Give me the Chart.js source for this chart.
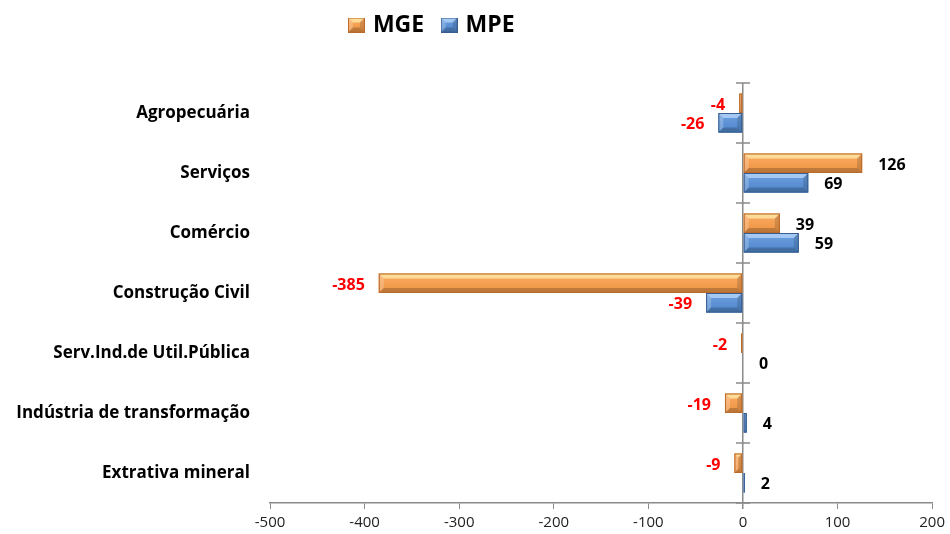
<!DOCTYPE html>
<html>
<head>
<meta charset="utf-8">
<script src="https://cdn.jsdelivr.net/npm/chart.js@4.4.1/dist/chart.umd.min.js"></script>
<style>
  html, body { margin: 0; padding: 0; background: #ffffff; }
  #wrap { width: 950px; height: 534px; position: relative; }
</style>
</head>
<body>
<div id="wrap"><canvas id="chart"></canvas></div>
<script>
// Saldo de empregos por setor, MGE x MPE
const categories = [
  'Agropecuária',
  'Serviços',
  'Comércio',
  'Construção Civil',
  'Serv.Ind.de Util.Pública',
  'Indústria de transformação',
  'Extrativa mineral'
];
const mgeValues = [-4, 126, 39, -385, -2, -19, -9];
const mpeValues = [-26, 69, 59, -39, 0, 4, 2];
const xTicks = [-500, -400, -300, -200, -100, 0, 100, 200];

const FONT = '"Open Sans", Lato, sans-serif';
const AXIS_GRAY = '#8a8a8a';

const palette = {
  MGE: { base: '#f59a48', border: '#b8692b', light: 'rgba(255,236,170,0.75)' },
  MPE: { base: '#548dd4', border: '#385e8f', light: 'rgba(190,220,255,0.7)' }
};

// Bevelled rectangle used for the bars and the legend keys
function bevelRect(ctx, l, t, r, b, col) {
  const w = r - l, h = b - t;
  if (w <= 0 || h <= 0) return;
  ctx.save();
  ctx.fillStyle = col.base;
  ctx.fillRect(l, t, w, h);
  const bv = Math.min(5, w / 2, h / 2);
  if (w > 2) {
    const g = ctx.createLinearGradient(0, t, 0, b);
    g.addColorStop(0, 'rgba(255,255,255,0.18)');
    g.addColorStop(0.5, 'rgba(255,255,255,0.05)');
    g.addColorStop(1, 'rgba(0,0,0,0.05)');
    ctx.fillStyle = g;
    ctx.fillRect(l, t, w, h);
    const poly = (pts, fill) => {
      ctx.beginPath();
      ctx.moveTo(pts[0][0], pts[0][1]);
      for (let i = 1; i < pts.length; i++) ctx.lineTo(pts[i][0], pts[i][1]);
      ctx.closePath();
      ctx.fillStyle = fill;
      ctx.fill();
    };
    poly([[l, t], [r, t], [r - bv, t + bv], [l + bv, t + bv]], col.light);
    poly([[l, b], [r, b], [r - bv, b - bv], [l + bv, b - bv]], 'rgba(0,0,0,0.2)');
    poly([[l, t], [l + bv, t + bv], [l + bv, b - bv], [l, b]], 'rgba(255,255,255,0.22)');
    poly([[r, t], [r - bv, t + bv], [r - bv, b - bv], [r, b]], 'rgba(0,0,0,0.14)');
  }
  ctx.strokeStyle = col.border;
  ctx.lineWidth = 1;
  ctx.strokeRect(l + 0.5, t + 0.5, Math.max(w - 1, 0), Math.max(h - 1, 0));
  ctx.restore();
}

function legendKey(col) {
  const c = document.createElement('canvas');
  c.width = 17; c.height = 15;
  bevelRect(c.getContext('2d'), 0, 0, 17, 15, col);
  return c;
}

// Bars re-painted with a bevel
const bevelBars = {
  id: 'bevelBars',
  afterDatasetsDraw(chart) {
    const ctx = chart.ctx;
    chart.data.datasets.forEach((ds, di) => {
      const meta = chart.getDatasetMeta(di);
      const col = palette[ds.label];
      meta.data.forEach((el) => {
        const p = el.getProps(['x', 'y', 'base', 'height'], true);
        const l = Math.min(p.x, p.base), r = Math.max(p.x, p.base);
        const t = p.y - p.height / 2, b = p.y + p.height / 2;
        if (r - l >= 0.5) bevelRect(ctx, l, t, r, b, col);
      });
    });
  }
};

// Value labels beside each bar end: red when negative
const valueLabels = {
  id: 'valueLabels',
  afterDraw(chart) {
    const ctx = chart.ctx;
    ctx.save();
    ctx.font = 'bold 16px ' + FONT;
    ctx.textBaseline = 'middle';
    chart.data.datasets.forEach((ds, di) => {
      const meta = chart.getDatasetMeta(di);
      meta.data.forEach((el, i) => {
        const v = ds.data[i];
        const p = el.getProps(['x', 'y'], true);
        if (v < 0) {
          ctx.fillStyle = '#ff0000';
          ctx.textAlign = 'right';
          ctx.fillText(String(v), p.x - 14, p.y + 2);
        } else {
          ctx.fillStyle = '#000000';
          ctx.textAlign = 'left';
          ctx.fillText(String(v), p.x + 16, p.y + 2);
        }
      });
    });
    ctx.restore();
  }
};

// Short marks crossing the zero line at each category boundary
const zeroAxisTicks = {
  id: 'zeroAxisTicks',
  afterDatasetsDraw(chart) {
    const ctx = chart.ctx;
    const xs = chart.scales.x, ys = chart.scales.y;
    const x0 = xs.getPixelForValue(0);
    ctx.save();
    ctx.strokeStyle = AXIS_GRAY;
    ctx.lineWidth = 1.5;
    for (let i = 0; i <= categories.length; i++) {
      const y = Math.round(ys.getPixelForValue(i - 0.5));
      ctx.beginPath();
      ctx.moveTo(x0 - 7, y);
      ctx.lineTo(x0 + 7, y);
      ctx.stroke();
    }
    ctx.restore();
  }
};

// Legend sits high and left of centre
const legendPlace = {
  id: 'legendPlace',
  afterLayout(chart) {
    const lg = chart.legend;
    lg.left -= 71;
    lg.top -= 36.5;
    lg.bottom -= 36.5;
  }
};

new Chart(document.getElementById('chart'), {
  type: 'bar',
  data: {
    labels: categories,
    datasets: [
      { label: 'MGE', data: mgeValues, backgroundColor: palette.MGE.base, borderColor: palette.MGE.border, borderWidth: 0 },
      { label: 'MPE', data: mpeValues, backgroundColor: palette.MPE.base, borderColor: palette.MPE.border, borderWidth: 0 }
    ]
  },
  options: {
    indexAxis: 'y',
    responsive: true,
    maintainAspectRatio: false,
    animation: false,
    events: [],
    datasets: { bar: { categoryPercentage: 0.65, barPercentage: 1.0 } },
    layout: { padding: { left: 0, right: 13, top: 30, bottom: 0 } },
    plugins: {
      tooltip: { enabled: false },
      legend: {
        position: 'top',
        align: 'center',
        labels: {
          font: { family: FONT, size: 23, weight: 'bold' },
          color: '#000',
          usePointStyle: true,
          boxWidth: 10,
          boxHeight: 15,
          padding: 20,
          generateLabels(chart) {
            return chart.data.datasets.map((ds, i) => ({
              text: ds.label,
              pointStyle: legendKey(palette[ds.label]),
              fillStyle: palette[ds.label].base,
              strokeStyle: palette[ds.label].border,
              lineWidth: 0,
              hidden: false,
              datasetIndex: i
            }));
          }
        }
      }
    },
    scales: {
      x: {
        type: 'linear',
        min: xTicks[0],
        max: xTicks[xTicks.length - 1],
        afterBuildTicks(scale) { scale.ticks = xTicks.map(v => ({ value: v })); },
        afterFit(scale) { scale.height = 31; },
        ticks: { font: { family: FONT, size: 15 }, color: '#222', padding: 5 },
        grid: {
          drawOnChartArea: true,
          color: (c) => (c.tick && c.tick.value === 0 ? AXIS_GRAY : 'rgba(0,0,0,0)'),
          lineWidth: (c) => (c.tick && c.tick.value === 0 ? 1.5 : 1),
          tickColor: AXIS_GRAY,
          tickLength: 6
        },
        border: { display: true, color: AXIS_GRAY, width: 1.5 }
      },
      y: {
        afterFit(scale) { scale.width = 270; },
        ticks: { font: { family: FONT, size: 17, weight: 'bold' }, color: '#000', padding: 20 },
        grid: { display: false, drawTicks: false },
        border: { display: false }
      }
    }
  },
  plugins: [bevelBars, zeroAxisTicks, valueLabels, legendPlace]
});
</script>
</body>
</html>
